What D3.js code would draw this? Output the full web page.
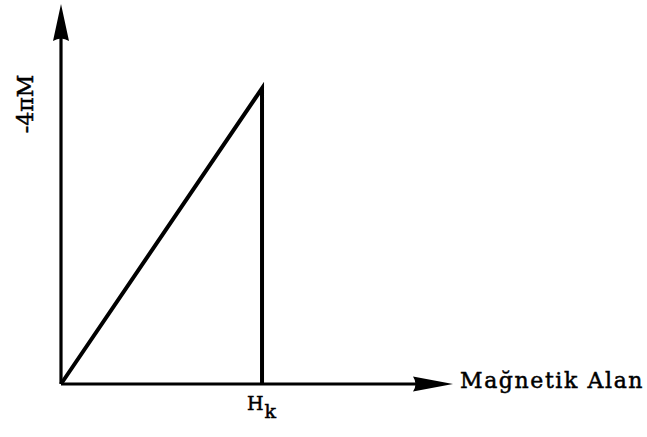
<!DOCTYPE html>
<html>
<head>
<meta charset="utf-8">
<script src="https://cdn.jsdelivr.net/npm/d3@7"></script>
<style>
  html, body { margin: 0; padding: 0; background: #fff; }
  svg { display: block; }
  text { font-family: "DejaVu Serif", "Liberation Serif", serif; fill: #000; stroke: #000; stroke-width: 0.5; }
</style>
</head>
<body>
<svg id="chart" width="647" height="437"></svg>
<script>
// Idealised magnetisation curve: -4πM rises linearly up to the anisotropy field Hk, then drops to zero
const curveH = [0, 1, 1];
const curveM = [0, 1, 0];
const xTickValues = [1];
const xTickLabels = ["H", "k"];
const xAxisTitle = "Mağnetik Alan";
const yAxisTitle = "-4πM";
const xAxisMax = 1.95;
const yAxisMax = 1.285;

const svg = d3.select("#chart");
const origin = { x: 61, y: 384 };

const x = d3.scaleLinear().domain([0, xAxisMax]).range([origin.x, 453]);
const y = d3.scaleLinear().domain([0, yAxisMax]).range([origin.y, 4]);

// axes
svg.append("line")
  .attr("x1", x(0)).attr("y1", y(0)).attr("x2", x(xAxisMax) - 30).attr("y2", y(0))
  .attr("stroke", "#000").attr("stroke-width", 3.2);
svg.append("line")
  .attr("x1", x(0)).attr("y1", y(0)).attr("x2", x(0)).attr("y2", y(yAxisMax) + 30)
  .attr("stroke", "#000").attr("stroke-width", 3.2);

// arrow heads
const xTip = x(xAxisMax), yTip = y(yAxisMax);
svg.append("path")
  .attr("d", `M${xTip},${y(0)} L${xTip - 40},${y(0) - 7.5} Q${xTip - 35},${y(0)} ${xTip - 40},${y(0) + 7.5} Z`)
  .attr("fill", "#000");
svg.append("path")
  .attr("d", `M${x(0)},${yTip} L${x(0) - 8},${yTip + 37} Q${x(0)},${yTip + 32} ${x(0) + 8},${yTip + 37} Z`)
  .attr("fill", "#000");

// curve
const line = d3.line().x((d, i) => x(curveH[i])).y((d, i) => y(curveM[i]));
svg.append("path")
  .datum(curveH)
  .attr("d", line)
  .attr("fill", "none")
  .attr("stroke", "#000")
  .attr("stroke-width", 4)
  .attr("stroke-linejoin", "miter");

// Hk tick label
xTickValues.forEach(v => {
  const t = svg.append("text")
    .attr("x", x(v) - 15)
    .attr("y", 410)
    .attr("font-size", 19);
  t.append("tspan").text(xTickLabels[0]);
  t.append("tspan").attr("dx", 1).attr("dy", 8).text(xTickLabels[1]);
});

// axis titles
svg.append("text")
  .attr("x", 460).attr("y", 388)
  .attr("font-size", 22)
  .attr("letter-spacing", 1.6)
  .text(xAxisTitle);

svg.append("text")
  .attr("transform", "translate(33,104) rotate(-90)")
  .attr("text-anchor", "middle")
  .attr("font-size", 22)
  .text(yAxisTitle);
</script>
</body>
</html>
